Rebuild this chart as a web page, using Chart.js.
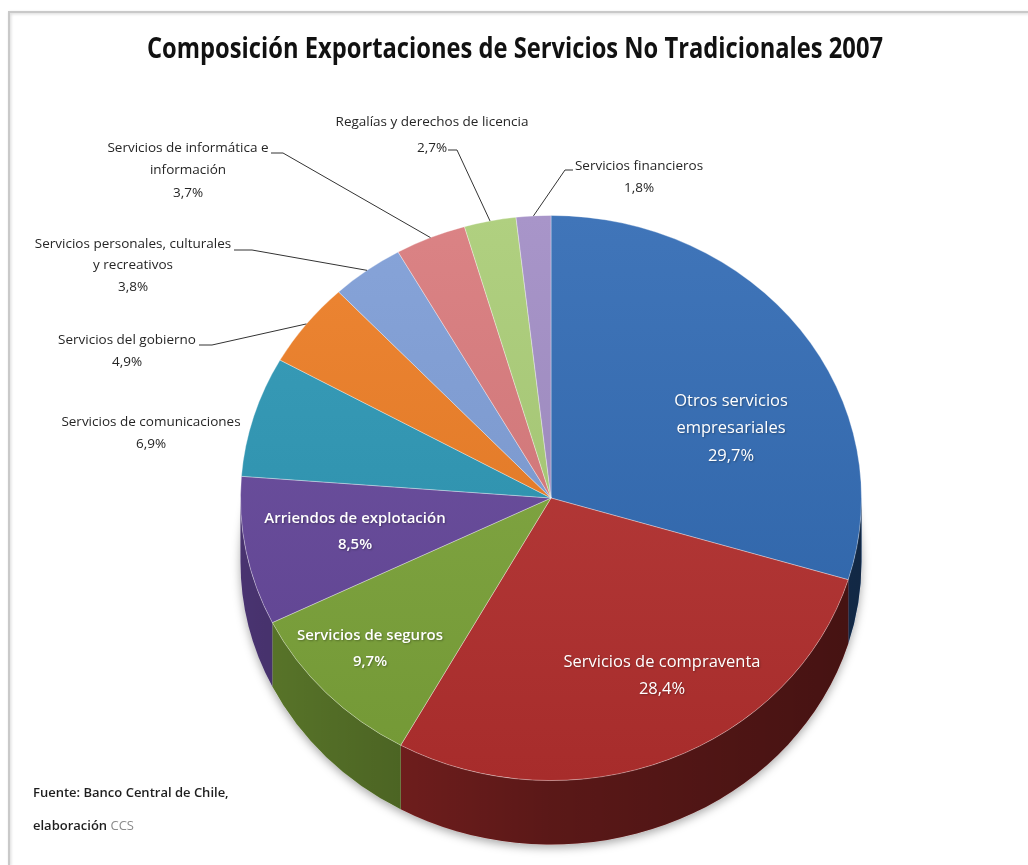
<!DOCTYPE html>
<html>
<head>
<meta charset="utf-8">
<script src="https://cdn.jsdelivr.net/npm/chart.js@4.4.1/dist/chart.umd.min.js"></script>
<style>
  html, body { margin: 0; padding: 0; background: #fff; }
  #wrap { position: relative; width: 1028px; height: 865px; }
</style>
</head>
<body>
<div id="wrap"><canvas id="chart" width="1028" height="865"></canvas></div>
<script>
const TITLE = 'Composición Exportaciones de Servicios No Tradicionales 2007';

const CATEGORIES = [
  ['Otros servicios', 'empresariales'],
  ['Servicios de compraventa'],
  ['Servicios de seguros'],
  ['Arriendos de explotación'],
  ['Servicios de comunicaciones'],
  ['Servicios del gobierno'],
  ['Servicios personales, culturales', 'y recreativos'],
  ['Servicios de informática e', 'información'],
  ['Regalías y derechos de licencia'],
  ['Servicios financieros'],
];
const SHARES = [29.7, 28.4, 9.7, 8.5, 6.9, 4.9, 3.8, 3.7, 2.7, 1.8];
const COLORS = [
  '#2f69b3', '#b5302f', '#7da53a', '#65479b', '#2a96b4',
  '#ec7c22', '#7d9cd6', '#d8787a', '#a9cc75', '#a08cc4',
];

const TILT = 0.91;  // vertical squash of the pie face
const DEPTH = 64;   // thickness of the pie

// where each label sits (centre of its first line); callouts get a leader elbow
const LABEL_SPOTS = [
  { x: 731, y: 401, inside: true, size: 16.5, weight: 400 },
  { x: 662, y: 662, inside: true, size: 16.5, weight: 400 },
  { x: 370, y: 636, inside: true, size: 15, weight: 600 },
  { x: 355, y: 519, inside: true, size: 15, weight: 600 },
  { x: 151, y: 422 },
  { x: 127, y: 340, leader: [[199, 345], [212, 345]] },
  { x: 133, y: 244, lh: 21.5, leader: [[234, 250], [252, 250]] },
  { x: 188, y: 148, lh: 22.5, leader: [[271, 153], [283, 153]] },
  { x: 432, y: 122, lh: 26, leader: [[448, 150], [457, 150]] },
  { x: 639, y: 166, leader: [[573, 170], [565, 170]] },
];

function shade(hex, amt) {
  const n = parseInt(hex.slice(1), 16);
  let r = n >> 16, g = (n >> 8) & 255, b = n & 255;
  const f = (c) => Math.round(amt >= 0 ? c + (255 - c) * amt : c * (1 + amt));
  return `rgb(${f(r)},${f(g)},${f(b)})`;
}

function pct(v) {
  return v.toFixed(1).replace('.', ',') + '%';
}

const pie3d = {
  id: 'pie3d',
  beforeDraw(chart) {
    const ctx = chart.ctx;
    ctx.save();
    ctx.shadowColor = 'rgba(0,0,0,0.18)';
    ctx.shadowBlur = 3;
    ctx.shadowOffsetX = 1;
    ctx.shadowOffsetY = 1;
    ctx.strokeStyle = '#c9c9c9';
    ctx.lineWidth = 2;
    ctx.beginPath();
    ctx.moveTo(9, 865);
    ctx.lineTo(9, 12);
    ctx.lineTo(1028, 12);
    ctx.stroke();
    ctx.restore();
  },
  beforeDatasetsDraw(chart) {
    const ctx = chart.ctx;
    const arcs = chart.getDatasetMeta(0).data;
    const { x: cx, y: cy, outerRadius: r } = arcs[0];
    const ry = r * TILT;

    // soft shadow under the pie
    ctx.save();
    ctx.shadowColor = 'rgba(0,0,0,0.35)';
    ctx.shadowBlur = 10;
    ctx.shadowOffsetY = 3;
    ctx.fillStyle = '#fff';
    ctx.beginPath();
    ctx.ellipse(cx, cy + DEPTH, r, ry, 0, 0, Math.PI * 2);
    ctx.fill();
    ctx.restore();

    // the visible rim (front half)
    arcs.forEach((arc, i) => {
      const lo = Math.max(arc.startAngle, 0);
      const hi = Math.min(arc.endAngle, Math.PI);
      if (lo >= hi) return;
      ctx.beginPath();
      ctx.ellipse(cx, cy, r, ry, 0, lo, hi);
      ctx.ellipse(cx, cy + DEPTH, r, ry, 0, hi, lo, true);
      ctx.closePath();
      ctx.fillStyle = COLORS[i];
      ctx.fill();
      const g = ctx.createLinearGradient(cx - r, 0, cx + r, 0);
      g.addColorStop(0, 'rgba(0,0,0,0.28)');
      g.addColorStop(0.5, 'rgba(0,0,0,0.5)');
      g.addColorStop(1, 'rgba(0,0,0,0.62)');
      ctx.fillStyle = g;
      ctx.fill();
    });

    // squash the face that Chart.js draws next
    ctx.save();
    ctx.translate(cx, cy);
    ctx.scale(1, TILT);
    ctx.translate(-cx, -cy);
  },
  afterDatasetsDraw(chart) {
    chart.ctx.restore();
  },
  afterDraw(chart) {
    const ctx = chart.ctx;
    const arcs = chart.getDatasetMeta(0).data;
    const { x: cx, y: cy, outerRadius: r } = arcs[0];
    const ry = r * TILT;

    // title
    ctx.save();
    ctx.font = 'bold 28px "Open Sans"';
    ctx.fillStyle = '#111';
    ctx.textAlign = 'center';
    ctx.textBaseline = 'middle';
    const tw = ctx.measureText(TITLE).width;
    const sx = Math.min(1, 736 / tw);
    ctx.translate(515, 50);
    ctx.scale(sx, 1);
    ctx.fillText(TITLE, 0, 0);
    ctx.restore();

    // slice labels
    arcs.forEach((arc, i) => {
      const spot = LABEL_SPOTS[i];
      const lines = CATEGORIES[i].concat(pct(SHARES[i]));
      ctx.save();
      ctx.textAlign = 'center';
      ctx.textBaseline = 'middle';
      if (spot.inside) {
        ctx.font = `${spot.weight} ${spot.size}px "Open Sans"`;
        ctx.fillStyle = '#fff';
        ctx.shadowColor = 'rgba(0,0,0,0.3)';
        ctx.shadowBlur = 2;
        ctx.shadowOffsetX = 1;
        ctx.shadowOffsetY = 1;
        const lh = spot.size + 11;
        lines.forEach((t, k) => ctx.fillText(t, spot.x, spot.y + k * lh));
      } else {
        ctx.font = '13.5px "Open Sans"';
        ctx.fillStyle = '#262626';
        const lh = spot.lh || 22;
        lines.forEach((t, k) => ctx.fillText(t, spot.x, spot.y + k * lh));
        if (spot.leader) {
          const mid = (arc.startAngle + arc.endAngle) / 2;
          const ax = cx + r * Math.cos(mid);
          const ay = cy + ry * Math.sin(mid);
          ctx.strokeStyle = '#333';
          ctx.lineWidth = 1;
          ctx.beginPath();
          ctx.moveTo(spot.leader[0][0], spot.leader[0][1]);
          ctx.lineTo(spot.leader[1][0], spot.leader[1][1]);
          ctx.lineTo(ax, ay);
          ctx.stroke();
        }
      }
      ctx.restore();
    });

    // source note
    ctx.save();
    ctx.font = '600 13px "Open Sans"';
    ctx.textBaseline = 'middle';
    ctx.fillStyle = '#1e1e1e';
    ctx.fillText('Fuente: Banco Central de Chile,', 33, 793);
    ctx.fillText('elaboración', 33, 826);
    const w = ctx.measureText('elaboración ').width;
    ctx.font = '13px "Open Sans"';
    ctx.fillStyle = '#8a8a8a';
    ctx.fillText('CCS', 33 + w, 826);
    ctx.restore();
  },
};

new Chart(document.getElementById('chart'), {
  type: 'pie',
  data: {
    labels: CATEGORIES,
    datasets: [{
      data: SHARES,
      backgroundColor: (c) => {
        const area = c.chart.chartArea;
        const base = COLORS[c.dataIndex];
        if (!area) return base;
        const g = c.chart.ctx.createLinearGradient(0, area.top, 0, area.bottom);
        g.addColorStop(0, shade(base, 0.08));
        g.addColorStop(1, shade(base, -0.08));
        return g;
      },
      borderColor: 'rgba(255,255,255,0.35)',
      borderWidth: 1,
      hoverOffset: 0,
    }],
  },
  options: {
    responsive: false,
    animation: false,
    layout: { padding: { left: 240, right: 166, top: 187, bottom: 56 } },
    plugins: {
      legend: { display: false },
      tooltip: { enabled: false },
      title: { display: false },
    },
  },
  plugins: [pie3d],
});
</script>
</body>
</html>
